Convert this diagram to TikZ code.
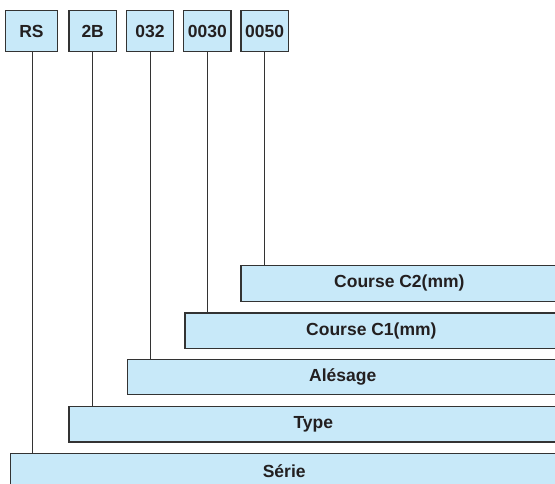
\documentclass[tikz,border=0pt]{standalone}
\usepackage{fontspec}
\setmainfont{Liberation Sans}
\usepackage{tikz}
\definecolor{refblue}{HTML}{C8E9F9}
\definecolor{refedge}{HTML}{333333}
\definecolor{refink}{HTML}{231F20}

\begin{document}
\begin{tikzpicture}[
        x=1pt, y=-1pt,
        every node/.style={font=\fontsize{17.5}{19}\selectfont\bfseries, text=refink},
        cd/.style={
          draw=refedge, line width=1.4pt,
          fill=refblue, inner sep=0pt,
          minimum width=47.3pt, minimum height=41.4pt,
        },
        fld/.style={
          draw=refedge, line width=1.4pt,
          fill=refblue, inner sep=0pt,
          anchor=north west, minimum height=35.5pt,
        },
        lnk/.style={draw=refedge, line width=1pt},
      ]
      \useasboundingbox (0,0) rectangle (555,483);
      \clip (0,0) rectangle (555,483);

      \node[cd, minimum width=51.6pt] (rs)   at (31.5, 31)  {RS};
      \node[cd] (tb)   at (92.7, 31)  {2B};
      \node[cd] (bo)   at (150,  31)  {032};
      \node[cd] (sa)   at (207.3,31)  {0030};
      \node[cd] (sb)   at (264.7,31)  {0050};

      \node[fld, minimum width=316.7pt] (c2)  at (240.3,265)   {Course C2(mm)};
      \node[fld, minimum width=372.7pt] (c1)  at (184.3,312.3) {Course C1(mm)};
      \node[fld, minimum width=430pt]   (ale) at (127,  358.5) {Alésage};
      \node[fld, minimum width=488.7pt] (typ) at (68.3, 405.7) {Type};
      \node[fld, minimum width=547pt]   (ser) at (10,   452.7) {Série};

      \draw[lnk] ([xshift=1pt]rs.south) -- ([xshift=1pt]rs.south |- ser.north);
      \draw[lnk] (tb.south) -- (tb.south |- typ.north);
      \draw[lnk] (bo.south) -- (bo.south |- ale.north);
      \draw[lnk] (sa.south) -- (sa.south |- c1.north);
      \draw[lnk] (sb.south) -- (sb.south |- c2.north);
    \end{tikzpicture}
\end{document}
